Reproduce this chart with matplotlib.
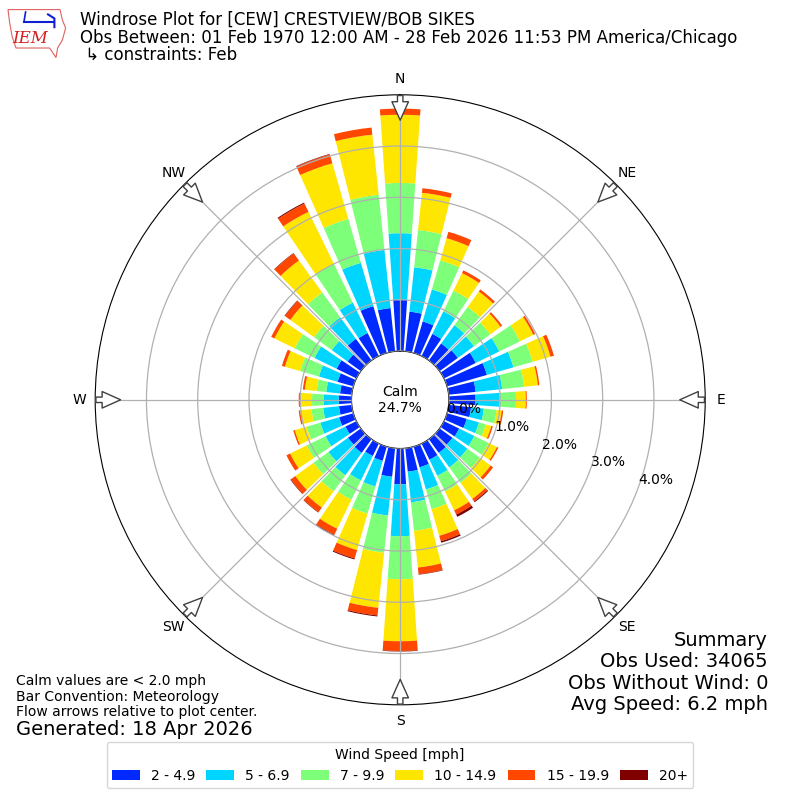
import numpy as np
import matplotlib
matplotlib.use("Agg")
import matplotlib.pyplot as plt
from matplotlib.patches import Polygon

# directions (deg, meteorological) and percent frequency per speed bin
directions = np.arange(0, 360, 10)
bin_labels = ["2 - 4.9", "5 - 6.9", "7 - 9.9", "10 - 14.9", "15 - 19.9", "20+"]
spd_2_5 = [1.00, 0.78, 0.64, 0.48, 0.41, 0.44, 0.69, 0.81, 0.53, 0.52,
           0.44, 0.40, 0.33, 0.31, 0.33, 0.35, 0.42, 0.46, 0.70, 0.56,
           0.29, 0.27, 0.33, 0.31, 0.24, 0.29, 0.25, 0.25, 0.23, 0.32,
           0.43, 0.32, 0.52, 0.50, 0.95, 0.85]
spd_5_7 = [1.30, 0.87, 0.65, 0.49, 0.44, 0.39, 0.51, 0.54, 0.52, 0.47,
           0.25, 0.25, 0.33, 0.36, 0.35, 0.35, 0.45, 0.60, 1.01, 0.76,
           0.52, 0.53, 0.54, 0.47, 0.43, 0.38, 0.31, 0.29, 0.27, 0.38,
           0.48, 0.38, 0.52, 0.66, 0.88, 1.14]
spd_7_10 = [0.98, 0.73, 0.59, 0.45, 0.44, 0.39, 0.45, 0.39, 0.43, 0.32,
            0.25, 0.14, 0.31, 0.30, 0.37, 0.34, 0.40, 0.56, 0.84, 0.73,
            0.55, 0.42, 0.39, 0.36, 0.41, 0.28, 0.23, 0.23, 0.19, 0.38,
            0.43, 0.43, 0.60, 0.84, 0.89, 1.08]
spd_10_15 = [1.33, 0.73, 0.45, 0.38, 0.37, 0.25, 0.29, 0.36, 0.27, 0.19,
             0.10, 0.11, 0.18, 0.26, 0.39, 0.41, 0.54, 0.72, 1.21, 1.08,
             0.74, 0.63, 0.39, 0.44, 0.36, 0.24, 0.22, 0.22, 0.23, 0.31,
             0.44, 0.57, 0.77, 1.13, 1.13, 1.18]
spd_15_20 = [0.12, 0.09, 0.13, 0.06, 0.05, 0.04, 0.04, 0.07, 0.03, 0.02,
             0.03, 0.03, 0.03, 0.06, 0.06, 0.09, 0.11, 0.13, 0.19, 0.15,
             0.17, 0.13, 0.11, 0.11, 0.08, 0.03, 0.03, 0.04, 0.04, 0.06,
             0.07, 0.13, 0.17, 0.18, 0.18, 0.14]
spd_20 = [0.00, 0.00, 0.00, 0.00, 0.00, 0.00, 0.00, 0.00, 0.00, 0.00,
          0.00, 0.00, 0.00, 0.00, 0.02, 0.05, 0.03, 0.01, 0.01, 0.02,
          0.02, 0.02, 0.01, 0.01, 0.00, 0.00, 0.00, 0.00, 0.00, 0.00,
          0.00, 0.01, 0.01, 0.02, 0.01, 0.00]
calm_pct = 24.7
rings = [0, 1, 2, 3, 4]

fig = plt.figure(figsize=(8, 8), dpi=100)
ax = fig.add_axes([0.119, 0.119, 0.7625, 0.7625], projection="polar")
ax.set_theta_zero_location("N")
ax.set_theta_direction(-1)

colors = plt.cm.jet(np.linspace(0, 1, 7))[1:]
theta = np.deg2rad(directions)
width = np.deg2rad(8)
bottom = np.zeros(len(directions))
for vals, col, lab in zip([spd_2_5, spd_5_7, spd_7_10, spd_10_15, spd_15_20, spd_20],
                          colors, bin_labels):
    vals = np.array(vals)
    ax.bar(theta, vals, width=width, bottom=bottom, color=col, label=lab,
           linewidth=0, zorder=2)
    bottom = bottom + vals

ax.set_ylim(0, 5)
ax.set_rorigin(-0.95)
ax.set_yticks(rings)
ax.set_yticklabels(["%.1f%%" % r for r in rings])
ax.set_rlabel_position(110)
ax.tick_params(axis="y", labelsize=10)
ax.set_xticks(np.deg2rad(np.arange(0, 360, 45)))
ax.set_xticklabels(["N", "NE", "E", "SE", "S", "SW", "W", "NW"])
ax.tick_params(axis="x", labelsize=10, pad=1)
ax.grid(True, color="#b0b0b0", linewidth=0.9)
ax.set_axisbelow(False)

# flow arrows on the rim
for d in np.arange(0, 360, 45):
    t = np.deg2rad(d)
    ax.annotate("", xy=(t, 4.45), xytext=(t, 5.04),
                arrowprops=dict(arrowstyle="simple,head_width=0.85,head_length=0.95,tail_width=0.28",
                                fc="white", ec="#404040", lw=1, mutation_scale=14),
                annotation_clip=False, zorder=5)

ax.text(0, -0.95, "Calm\n%.1f%%" % calm_pct, ha="center", va="center", fontsize=10,
        transform=ax.transData)

# rough IEM logo: state outline, station sketch, letters
outline = [(0.010, 0.988), (0.075, 0.988), (0.078, 0.975), (0.082, 0.965),
           (0.078, 0.950), (0.072, 0.940), (0.070, 0.928), (0.062, 0.940),
           (0.020, 0.940), (0.015, 0.955), (0.012, 0.972)]
fig.add_artist(Polygon(outline, closed=True, fill=False, ec="#e06060", lw=0.8,
                       transform=fig.transFigure))
fig.add_artist(plt.Line2D([0.030, 0.068], [0.973, 0.973], color="#1020d0", lw=1.5,
                          transform=fig.transFigure))
fig.add_artist(plt.Line2D([0.032, 0.030], [0.985, 0.973], color="#1020d0", lw=1.2,
                          transform=fig.transFigure))
fig.add_artist(plt.Line2D([0.060, 0.068, 0.068], [0.982, 0.977, 0.966], color="#1020d0",
                          lw=1.5, transform=fig.transFigure))
fig.text(0.038, 0.952, "IEM", fontsize=12, color="#d42020", style="italic",
         family="DejaVu Serif", ha="center", va="center")

fig.text(0.1, 0.975, "Windrose Plot for [CEW] CRESTVIEW/BOB SIKES", fontsize=12, va="center")
fig.text(0.1, 0.9525, "Obs Between: 01 Feb 1970 12:00 AM - 28 Feb 2026 11:53 PM America/Chicago",
         fontsize=12, va="center")
fig.text(0.1, 0.931, " \u21b3 constraints: Feb", fontsize=12, va="center")

fig.text(0.02, 0.149, "Calm values are < 2.0 mph", fontsize=10, va="center")
fig.text(0.02, 0.129, "Bar Convention: Meteorology", fontsize=10, va="center")
fig.text(0.02, 0.110, "Flow arrows relative to plot center.", fontsize=10, va="center")
fig.text(0.02, 0.088, "Generated: 18 Apr 2026", fontsize=14, va="center")

summary = ["Summary", "Obs Used: 34065", "Obs Without Wind: 0", "Avg Speed: 6.2 mph"]
for i, s in enumerate(summary):
    fig.text(0.96, 0.2 - i * 0.027, s, fontsize=14, ha="right", va="center")

fig.legend(loc="lower center", bbox_to_anchor=(0.5, 0.006), ncol=6,
           title="Wind Speed [mph]", fontsize=10, title_fontsize=10,
           columnspacing=0.8)

fig.savefig("out.png", dpi=100)
